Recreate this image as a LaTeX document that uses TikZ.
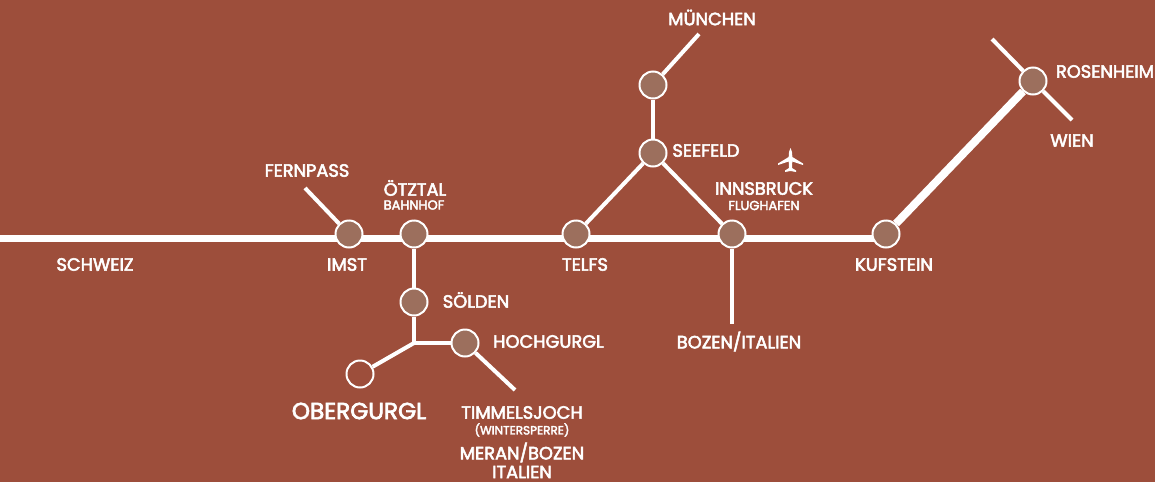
\documentclass[tikz,border=0pt]{standalone}
\usepackage{fontspec}
\setmainfont{Poppins}[FakeBold=3]
\definecolor{bg}{HTML}{9D4E3B}
\definecolor{stn}{HTML}{9C6F5D}
\pgfdeclarelayer{backdrop}
\pgfdeclarelayer{lines}
\pgfsetlayers{backdrop,lines,main}
\tikzset{
  x=1pt,y=-1pt,
  station/.style={circle,draw=white,line width=2pt,fill=stn,minimum size=27pt,inner sep=0pt},
  open/.style={station,fill=bg},
  mainline/.style={draw=white,line width=7pt},
  branch/.style={draw=white,line width=4pt},
  lab/.style={text=white,inner sep=0pt,font=\fontsize{17.8}{18}\selectfont,align=center},
  sub/.style={text=white,inner sep=0pt,font=\fontsize{13}{13}\selectfont,align=center},
  tiny/.style={text=white,inner sep=0pt,font=\fontsize{12}{12}\selectfont,align=center},
  big/.style={text=white,inner sep=0pt,font=\fontsize{23.2}{24}\selectfont,align=center}
}
\begin{document}
\begin{tikzpicture}
\useasboundingbox (0,0) rectangle (1155,482);
\begin{pgfonlayer}{backdrop}
\fill[bg] (0,0) rectangle (1155,482);
\end{pgfonlayer}
% free ends and junctions
\coordinate (west) at (0,238.5);
\coordinate (imstm) at (349,238.5);
\coordinate (oetzm) at (414,238.5);
\coordinate (telfm) at (576,238.5);
\coordinate (innsm) at (732,238.5);
\coordinate (kufm) at (886,238.5);
\coordinate (fern) at (305,188);
\coordinate (muc) at (699,34);
\coordinate (bozen) at (732,324);
\coordinate (junc) at (414,343);
\coordinate (timm) at (515,390);
\coordinate (nw) at (992,39);
\coordinate (wien) at (1072,120);
% stations
\node[station] (imst) at (349,234) {};
\node[station] (oetz) at (414,234) {};
\node[station] (telf) at (576,234) {};
\node[station] (inns) at (732,234) {};
\node[station] (kuf) at (886,234) {};
\node[station] (see) at (653,153) {};
\node[station] (top) at (653,85) {};
\node[station] (ros) at (1033,81) {};
\node[station] (soel) at (414,302) {};
\node[station] (hoch) at (465,343) {};
\node[open] (ober) at (360,374) {};
% connectors
\begin{pgfonlayer}{lines}
\path[mainline] (west) -- (imstm);
\path[mainline] (imstm) -- (oetzm);
\path[mainline] (oetzm) -- (telfm);
\path[mainline] (telfm) -- (innsm);
\path[mainline] (innsm) -- (kufm);
\draw[draw=white,line width=8pt] (kuf) -- (ros);
\path[branch] (fern) -- (imst);
\path[branch] (muc) -- (top);
\path[branch] (top) -- (see);
\path[branch] (see) -- (telf);
\path[branch] (see) -- (inns);
\path[branch] (inns) -- (bozen);
\path[branch] (oetz) -- (soel);
\path[branch] (soel) -- (junc);
\path[branch] (junc) -- (hoch);
\path[branch] (junc) -- (ober);
\path[branch] (hoch) -- (timm);
\path[branch] (nw) -- (ros);
\path[branch] (ros) -- (wien);
\end{pgfonlayer}
% plane
\fill[white] (790.5,148) .. controls (792,150) and (792.2,153) .. (792.3,157)
  -- (803,163.5) -- (803,165) -- (792.3,161.5) -- (792,168) -- (796,170.5) -- (796,172)
  -- (790.5,171) -- (785,172) -- (785,170.5) -- (789,168) -- (788.7,161.5) -- (778,165)
  -- (778,163.5) -- (788.7,157) .. controls (788.8,153) and (789,150) .. (790.5,148) -- cycle;
% labels
\node[lab] (l1) at (95,264.5) {SCHWEIZ};
\node[lab] (l2) at (347,264.5) {IMST};
\node[lab] (l3) at (307,170.5) {FERNPASS};
\node[lab] (l4) at (415,188) {ÖTZTAL};
\node[sub] (l5) at (414,205) {BAHNHOF};
\node[lab] (l6) at (476,300) {SÖLDEN};
\node[lab] (l7) at (548.5,341.5) {HOCHGURGL};
\node[big] (l8) at (359,411) {OBERGURGL};
\node[lab] (l9) at (522,412.5) {TIMMELSJOCH};
\node[tiny] (l10) at (522,430) {(WINTERSPERRE)};
\node[lab] (l11) at (522,452.5) {MERAN/BOZEN};
\node[lab] (l12) at (522,472) {ITALIEN};
\node[lab] (l13) at (585,264.5) {TELFS};
\node[lab] (l14) at (712,17.5) {MÜNCHEN};
\node[lab] (l15) at (706,150.5) {SEEFELD};
\node[lab] (l16) at (764,188.5) {INNSBRUCK};
\node[sub] (l17) at (764,205.5) {FLUGHAFEN};
\node[lab] (l18) at (739,341.5) {BOZEN/ITALIEN};
\node[lab] (l19) at (894,264.5) {KUFSTEIN};
\node[lab] (l20) at (1105,71.5) {ROSENHEIM};
\node[lab] (l21) at (1072,140.5) {WIEN};
\end{tikzpicture}
\end{document}
